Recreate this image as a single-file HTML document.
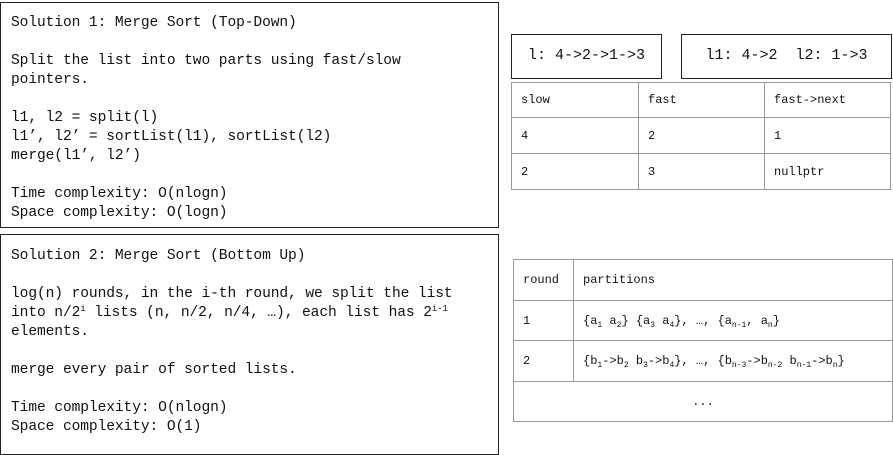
<!DOCTYPE html>
<html><head><style>
body{margin:0;width:893px;height:455px;background:#fff;position:relative;overflow:hidden;font-family:"Liberation Mono",monospace;color:#111}
.box{position:absolute;border:1.5px solid #222;box-sizing:border-box}
.txt{position:absolute;left:10px;font-size:14.6px;line-height:19px;white-space:pre;letter-spacing:-0.1px}
.sm{position:absolute;font-size:15px;white-space:pre;text-align:center;line-height:42px}
table{position:absolute;border-collapse:collapse;font-size:12px}
td{border:1px solid #999;padding:0 0 0 9px;white-space:nowrap}
sub{font-size:8px;vertical-align:-3px;line-height:0}
sup{font-size:9px;vertical-align:5px;line-height:0}
</style></head><body>
<div class="box" style="left:0;top:2px;width:499px;height:226px">
<div class="txt" style="top:11px">Solution 1: Merge Sort (Top-Down)

Split the list into two parts using fast/slow
pointers.

l1, l2 = split(l)
l1’, l2’ = sortList(l1), sortList(l2)
merge(l1’, l2’)

Time complexity: O(nlogn)
Space complexity: O(logn)</div></div>
<div class="box" style="left:0;top:234px;width:499px;height:221px">
<div class="txt" style="top:12px">Solution 2: Merge Sort (Bottom Up)

log(n) rounds, in the i-th round, we split the list
into n/2<sup>i</sup> lists (n, n/2, n/4, …), each list has 2<sup>i-1</sup>
elements.

merge every pair of sorted lists.

Time complexity: O(nlogn)
Space complexity: O(1)</div></div>
<div class="box sm" style="left:511px;top:34px;width:151px;height:45px">l: 4-&gt;2-&gt;1-&gt;3</div>
<div class="box sm" style="left:681px;top:34px;width:211px;height:45px">l1: 4-&gt;2  l2: 1-&gt;3</div>
<table style="left:511px;top:82px;width:380px">
<tr style="height:35px"><td style="width:117px">slow</td><td style="width:116px">fast</td><td>fast-&gt;next</td></tr>
<tr style="height:36px"><td>4</td><td>2</td><td>1</td></tr>
<tr style="height:36px"><td>2</td><td>3</td><td>nullptr</td></tr>
</table>
<table style="left:513px;top:259px;width:380px">
<tr style="height:41px"><td style="width:50px">round</td><td>partitions</td></tr>
<tr style="height:40px"><td>1</td><td>{a<sub>1</sub> a<sub>2</sub>} {a<sub>3</sub> a<sub>4</sub>}, …, {a<sub>n-1</sub>, a<sub>n</sub>}</td></tr>
<tr style="height:41px"><td>2</td><td>{b<sub>1</sub>-&gt;b<sub>2</sub> b<sub>3</sub>-&gt;b<sub>4</sub>}, …, {b<sub>n-3</sub>-&gt;b<sub>n-2</sub> b<sub>n-1</sub>-&gt;b<sub>n</sub>}</td></tr>
<tr style="height:40px"><td colspan="2" style="text-align:center;padding:0">...</td></tr>
</table>
</body></html>
